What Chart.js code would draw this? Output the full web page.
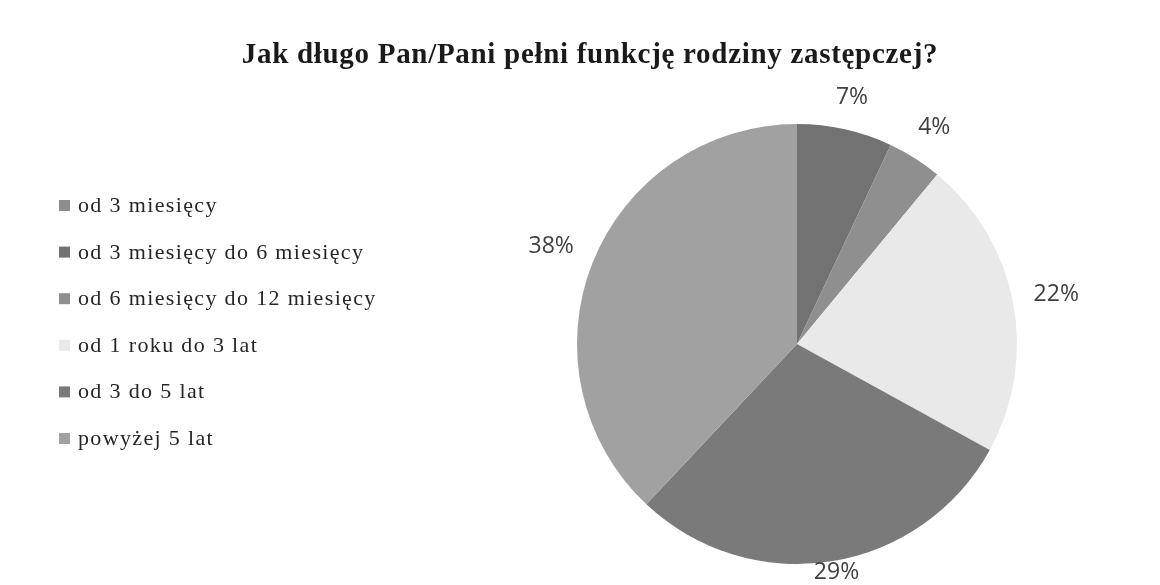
<!DOCTYPE html>
<html lang="pl">
<head>
<meta charset="utf-8">
<title>Jak długo Pan/Pani pełni funkcję rodziny zastępczej?</title>
<script src="https://cdn.jsdelivr.net/npm/chart.js@4/dist/chart.umd.min.js"></script>
<style>
    html, body { margin: 0; padding: 0; background: #fff; }
    #wrap { position: relative; width: 1160px; height: 585px; }
</style>
</head>
<body>
<div id="wrap"><canvas id="pieChart"></canvas></div>
<script>
const chartTitle = 'Jak długo Pan/Pani pełni funkcję rodziny zastępczej?';
const categories = [
    'od 3 miesięcy',
    'od 3 miesięcy do 6 miesięcy',
    'od 6 miesięcy do 12 miesięcy',
    'od 1 roku do 3 lat',
    'od 3 do 5 lat',
    'powyżej 5 lat',
];
const shares = [0, 7, 4, 22, 29, 38];
const sliceColors = ['#8e8e8e', '#727272', '#8f8f8f', '#e9e9e9', '#7a7a7a', '#a1a1a1'];

// Title and legend on the left, drawn straight onto the canvas.
const titleAndLegend = {
    id: 'titleAndLegend',
    afterDraw(chart) {
        const ctx = chart.ctx;
        ctx.save();
        ctx.fillStyle = '#1a1a1a';
        ctx.font = 'bold 29px "Liberation Serif", "Times New Roman", serif';
        ctx.letterSpacing = '0.7px';
        ctx.textAlign = 'center';
        ctx.textBaseline = 'alphabetic';
        ctx.fillText(chartTitle, 590, 63);

        ctx.font = '22px "Liberation Serif", "Times New Roman", serif';
        ctx.letterSpacing = '1.35px';
        ctx.textAlign = 'left';
        const colors = chart.data.datasets[0].backgroundColor;
        chart.data.labels.forEach((label, i) => {
            const base = 212 + i * 46.6;
            ctx.fillStyle = colors[i];
            ctx.fillRect(59, base - 12, 11, 11);
            ctx.fillStyle = '#262626';
            ctx.fillText(label, 78, base);
        });
        ctx.restore();
    },
};

// Percent labels just outside each slice.
const outsideLabels = {
    id: 'outsideLabels',
    afterDatasetsDraw(chart) {
        const ctx = chart.ctx;
        const meta = chart.getDatasetMeta(0);
        const values = chart.data.datasets[0].data;
        ctx.save();
        ctx.font = '23px "Open Sans", sans-serif';
        ctx.fillStyle = '#404040';
        ctx.textAlign = 'center';
        ctx.textBaseline = 'middle';
        meta.data.forEach((arc, i) => {
            if (!values[i]) return;
            const p = arc.getProps(['x', 'y', 'startAngle', 'endAngle', 'outerRadius'], true);
            const mid = (p.startAngle + p.endAngle) / 2;
            const text = values[i] + '%';
            const w = ctx.measureText(text).width;
            const h = 18;
            const dx = Math.cos(mid), dy = Math.sin(mid);
            const r = p.outerRadius + 20 + Math.abs(dx) * w / 2 + Math.abs(dy) * h / 2;
            const x = p.x + dx * r;
            const y = Math.min(p.y + dy * r, chart.height - h / 2 - 4);
            ctx.fillText(text, x, y);
        });
        ctx.restore();
    },
};

new Chart(document.getElementById('pieChart'), {
    type: 'pie',
    data: {
        labels: categories,
        datasets: [{
            data: shares,
            backgroundColor: sliceColors,
            borderWidth: 0,
        }],
    },
    options: {
        responsive: true,
        maintainAspectRatio: false,
        animation: false,
        events: [],
        layout: {
            padding: { left: 577, right: 143, top: 124, bottom: 21 },
        },
        plugins: {
            legend: { display: false },
            title: { display: false },
            tooltip: { enabled: false },
        },
    },
    plugins: [titleAndLegend, outsideLabels],
});
</script>
</body>
</html>
